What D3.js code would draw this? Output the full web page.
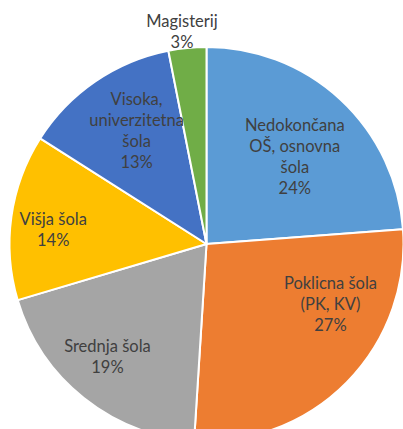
<!DOCTYPE html>
<html>
<head>
<meta charset="utf-8">
<script src="https://cdn.jsdelivr.net/npm/d3@7"></script>
<style>
  html, body { margin: 0; padding: 0; background: #fff; }
  svg { display: block; }
</style>
</head>
<body>
<svg id="chart" width="403" height="429"></svg>
<script>
// ---- data ----
const categories = [
  "Nedokončana OŠ, osnovna šola",
  "Poklicna šola (PK, KV)",
  "Srednja šola",
  "Višja šola",
  "Visoka, univerzitetna šola",
  "Magisterij"
];
const labelLines = [
  ["Nedokončana", "OŠ, osnovna", "šola"],
  ["Poklicna šola", "(PK, KV)"],
  ["Srednja šola"],
  ["Višja šola"],
  ["Visoka,", "univerzitetna", "šola"],
  ["Magisterij"]
];
const values = [23.8, 27.2, 19.4, 13.6, 12.9, 3.1];
const colors = ["#5B9BD5", "#ED7D31", "#A5A5A5", "#FFC000", "#4472C4", "#70AD47"];

// ---- layout (label placement: radius and position within slice) ----
const labelRadius = [124, 138, 150, 154, 133.5, 214];
const labelFrac = [0.53, 0.31, 0.54, 0.45, 0.56, 0.41];

const W = 403, H = 429;
const cx = 206.5, cy = 244, R = 197;
const lineH = 21;

const svg = d3.select("#chart");
const g = svg.append("g").attr("transform", `translate(${cx},${cy})`);

const pie = d3.pie().sort(null).value(d => d.value);
const data = categories.map((c, i) => ({ name: c, value: values[i], i }));
const arcs = pie(data);
const arc = d3.arc().innerRadius(0).outerRadius(R);

g.selectAll("path.slice")
  .data(arcs)
  .join("path")
  .attr("class", "slice")
  .attr("d", arc)
  .attr("fill", d => colors[d.data.i])
  .attr("stroke", "#fff")
  .attr("stroke-width", 2)
  .attr("stroke-linejoin", "round");

const total = d3.sum(values);
const fmt = v => Math.round(v / total * 100) + "%";

arcs.forEach((a, i) => {
  const ang = a.startAngle + (a.endAngle - a.startAngle) * labelFrac[i];
  const r = labelRadius[i];
  const x = r * Math.sin(ang);
  const y = -r * Math.cos(ang);
  const lines = labelLines[i].concat([fmt(values[i])]);
  const n = lines.length;
  const t = g.append("text")
    .attr("text-anchor", "middle")
    .attr("font-family", "Lato, 'Open Sans', sans-serif")
    .attr("font-size", "16.5px")
    .attr("fill", "#404040");
  lines.forEach((ln, k) => {
    t.append("tspan")
      .attr("x", x)
      .attr("y", y + (k - (n - 1) / 2) * lineH)
      .attr("dy", "0.35em")
      .text(ln);
  });
});
</script>
</body>
</html>
